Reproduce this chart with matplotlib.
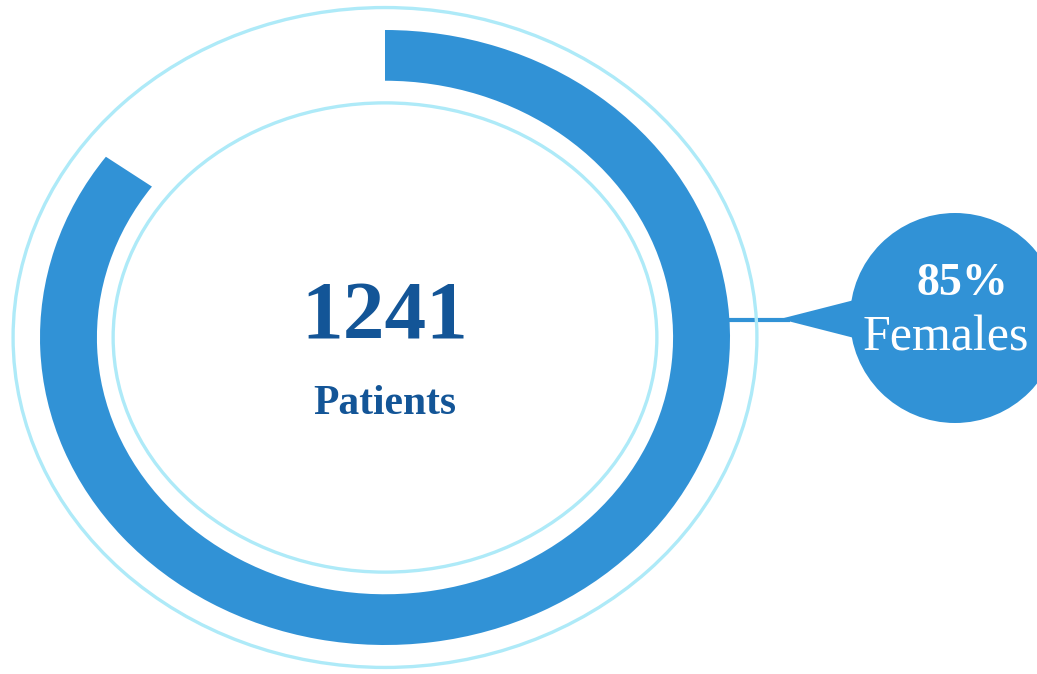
import matplotlib.pyplot as plt
from matplotlib.patches import Ellipse, Circle, Polygon

# data
total_patients = 1241
female_share = 85
labels = ['Females', 'Other']
shares = [female_share, 100 - female_share]

BLUE = '#3192d6'
LIGHT = '#aeeaf8'
DARK = '#135597'

fig = plt.figure(figsize=(10.37, 6.74), dpi=100)

# background axes in pixel coordinates for the callout
bg = fig.add_axes([0, 0, 1, 1])
bg.set_xlim(0, 1037)
bg.set_ylim(674, 0)
bg.axis('off')

# donut axes, stretched so the ring becomes an ellipse
ax = fig.add_axes([40 / 1037, 29 / 674, 690 / 1037, 615 / 674])
ax.pie(shares, colors=[BLUE, 'none'], startangle=90, counterclock=False,
       radius=1, wedgeprops=dict(width=0.165, edgecolor='none'))
ax.set_aspect('auto')
ax.set_xlim(-1, 1)
ax.set_ylim(-1, 1)
ax.axis('off')

# thin light rings
ax.add_patch(Ellipse((0, 0), 2 * 1.078, 2 * 1.073, fill=False, edgecolor=LIGHT,
                     linewidth=2.4, clip_on=False, zorder=0))
ax.add_patch(Ellipse((0, 0), 2 * 0.788, 2 * 0.763, fill=False, edgecolor=LIGHT,
                     linewidth=2.4, clip_on=False, zorder=0))

# centre text
ax.text(0, 0.06, str(total_patients), ha='center', va='center', color=DARK,
        fontsize=60, fontweight='bold', family='Liberation Serif')
ax.text(0, -0.215, 'Patients', ha='center', va='center', color=DARK,
        fontsize=30, fontweight='bold', family='Liberation Serif')

# callout bubble
bg.plot([728, 790], [320, 320], color=BLUE, linewidth=3, solid_capstyle='butt', zorder=3)
bg.add_patch(Polygon([[780, 319], [870, 296], [870, 342]], closed=True,
                     facecolor=BLUE, edgecolor='none', zorder=3))
bg.add_patch(Circle((955, 318), 105, facecolor=BLUE, edgecolor='none', zorder=3))
bg.text(962, 284, f'{female_share}%', ha='center', va='center', color='white',
        fontsize=33, fontweight='bold', family='Liberation Serif', zorder=4)
bg.text(946, 338, labels[0], ha='center', va='center', color='white',
        fontsize=36, family='Liberation Serif', zorder=4)

fig.savefig('out.png', dpi=100)
